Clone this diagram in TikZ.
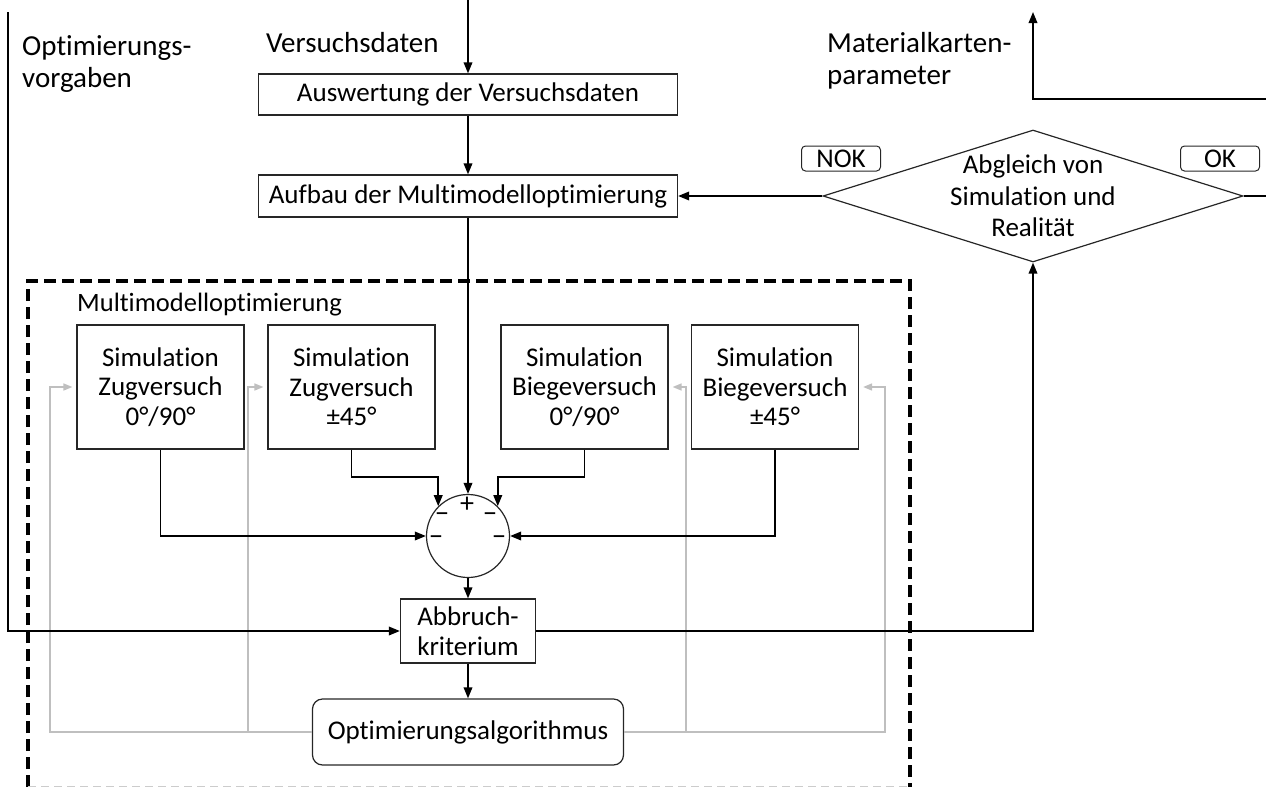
\documentclass[tikz,border=0pt]{standalone}
\usepackage{fontspec}
\setmainfont{Carlito}[Ligatures={NoCommon}]
\usetikzlibrary{arrows.meta,shapes.geometric}
\begin{document}
\begin{tikzpicture}[x=1pt,y=-1pt,
  every node/.style={inner sep=0pt, font=\fontsize{27}{29.5}\selectfont},
  blk/.style={draw=black!85, line width=1.2pt, rectangle, align=center},
  simbox/.style={blk, minimum width=167pt, minimum height=124pt},
  tag/.style={draw=black!85, line width=1pt, rounded corners=4pt, minimum width=79pt, minimum height=25pt},
  outer/.style={font=\fontsize{29}{32.5}\selectfont},
  arr/.style={draw=black, line width=1.8pt, -{Triangle[length=11pt,width=8.5pt]}},
  fb/.style={draw=black!25, line width=1.6pt, -{Triangle[length=9pt,width=7pt]}, shorten >=4pt},
  frame/.style={draw=black, line width=3.5pt, dash pattern=on 12pt off 6pt},
  sign/.style={anchor=base, font=\fontsize{28}{28}\selectfont}
]
\useasboundingbox (0,0) rectangle (1266,787);
\clip (0,0) rectangle (1266,787);

% dashed frame of the multi-model optimisation
\draw[frame] (28,787) -- (28,281) -- (910,281) -- (910,787);
\draw[black!20, line width=1pt, dash pattern=on 8pt off 5pt] (28,786) -- (910,786);

% free labels
\node[outer, anchor=west, align=left] (lblopt) at (22,64) {Optimierungs-\\vorgaben};
\node[outer, anchor=base west] (lblvers) at (266,52) {Versuchsdaten};
\node[outer, anchor=west, align=left] (lblmat) at (827,61) {Materialkarten-\\parameter};
\node[anchor=base west, font=\fontsize{26.5}{26.5}\selectfont] (lblmm) at (77,311) {Multimodelloptimierung};

% process boxes
\node[blk, minimum width=419pt, minimum height=41pt] (ausw) at (468,94.5) {Auswertung der Versuchsdaten};
\node[blk, minimum width=419pt, minimum height=42pt] (aufb) at (468,196) {Aufbau der Multimodelloptimierung};

\node[diamond, draw=black!85, line width=1.2pt, minimum width=420pt, minimum height=132pt] (cmp) at (1033,196) {};
\node[align=center, font=\fontsize{27}{31.5}\selectfont] (cmptxt) at (cmp.center) {Abgleich von\\Simulation und\\Realität};
\node[tag] (nok) at (841,158.5) {NOK};
\node[tag] (ok) at (1220,158.5) {OK};

\node[simbox] (s1) at (160.5,387) {Simulation\\Zugversuch\\0°/90°};
\node[simbox] (s2) at (351.5,387) {Simulation\\Zugversuch\\±45°};
\node[simbox] (s3) at (584.5,387) {Simulation\\Biegeversuch\\0°/90°};
\node[simbox] (s4) at (775,387) {Simulation\\Biegeversuch\\±45°};

% summation point with its signs
\node[circle, draw=black!85, line width=1.2pt, minimum size=83pt] (sum) at (468,536) {};
\node[sign] (pl) at (467,512) {+};
\node[sign] (m1) at (442,522) {−};
\node[sign] (m2) at (490,522) {−};
\node[sign] (m3) at (436,545) {−};
\node[sign] (m4) at (499,545) {−};

\node[blk, minimum width=135pt, minimum height=64pt] (abb) at (468,631) {Abbruch-\\kriterium};
\node[blk, rounded corners=10pt, minimum width=311pt, minimum height=66pt] (opt) at (468,732) {Optimierungsalgorithmus};

% helper coordinates
\coordinate (vin) at (468,0);
\coordinate (optin) at (8,12);
\coordinate (matout) at (1033,12);
\coordinate (okr) at (1280,196);
\coordinate (okt) at (1280,99);
\coordinate (okl) at (1033,99);
\coordinate (r2) at (0,477);
\coordinate (fa) at (50,387);
\coordinate (fb2) at (248,732);
\coordinate (fb2t) at (248,387);
\coordinate (fc) at (885,387);
\coordinate (fc3) at (686,732);
\coordinate (fc3t) at (686,387);

% feedback of the optimiser (grey)
\draw[fb] (opt.west) -| (fa) -- (s1.west);
\draw[fb] (fb2) -- (fb2t) -- (s2.west);
\draw[fb] (opt.east) -| (fc) -- (s4.east);
\draw[fb] (fc3) -- (fc3t) -- (s3.east);

% main flow
\draw[arr] (vin) -- (ausw.north);
\draw[arr] (ausw.south) -- (aufb.north);
\draw[arr] (aufb.south) -- (sum.north);
\draw[arr] (s1.south) |- (sum.west);
\draw[arr] (s4.south) |- (sum.east);
\draw[arr] (s2.south) |- (sum.north west |- r2) -- (sum.north west);
\draw[arr] (s3.south) |- (sum.north east |- r2) -- (sum.north east);
\draw[arr] (sum.south) -- (abb.north);
\draw[arr] (abb.south) -- (opt.north);
\draw[arr] (optin) |- (abb.west);
\draw[arr] (abb.east) -| (cmp.south);
\draw[arr] (cmp.west) -- (aufb.east);
\draw[arr] (cmp.east) -- (okr) -- (okt) -- (okl) -- (matout);
\end{tikzpicture}
\end{document}
